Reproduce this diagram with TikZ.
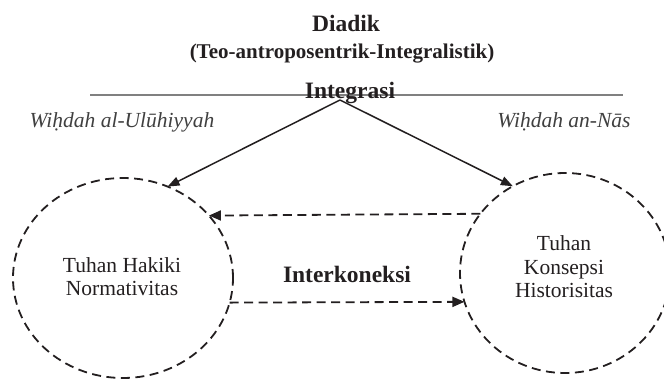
\documentclass[tikz,border=0pt]{standalone}
\usepackage{fontspec}
\setmainfont{Liberation Serif}
\usetikzlibrary{shapes.geometric,arrows.meta}
\definecolor{ink}{HTML}{231F20}
\definecolor{rule}{HTML}{808080}
\definecolor{soft}{HTML}{404040}
\begin{document}
\begin{tikzpicture}[x=1pt,y=-1pt,
  every node/.style={inner sep=0pt,outer sep=0pt,text=ink},
  headline/.style={font=\fontsize{23.5}{27}\selectfont\bfseries,anchor=base},
  subline/.style={font=\fontsize{21}{25}\selectfont\bfseries,anchor=base},
  sidelabel/.style={font=\fontsize{21.5}{25}\selectfont\itshape,text=soft,anchor=base},
  bodytext/.style={font=\fontsize{21.5}{23.5}\selectfont,align=center},
  realm/.style={ellipse,draw=ink,line width=1.8pt,dash pattern=on 9pt off 5.5pt},
  solidarrow/.style={draw=ink,line width=1.5pt,-{Triangle[length=12pt,width=9pt]}},
  linkarrow/.style={draw=ink,line width=1.8pt,dash pattern=on 9pt off 5.5pt,
    -{Triangle[length=12pt,width=10pt]}}
]
\useasboundingbox (0,0) rectangle (664,379);

% headings
\node[headline] (title) at (346,32) {Diadik};
\node[subline] (subtitle) at (342,59) {(Teo-antroposentrik-Integralistik)};

% rule under the headings
\coordinate (ruleL) at (90,95);
\coordinate (ruleR) at (623,95);
\draw[rule,line width=1.8pt] (ruleL) -- (ruleR);

\node[headline] (integ) at (350,99) {Integrasi};

% side labels
\node[sidelabel] (wl) at (122,128) {Wi\d{h}dah al-Ul\={u}hiyyah};
\node[sidelabel] (wr) at (564,128) {Wi\d{h}dah an-N\={a}s};

% the two realms
\node[realm,minimum width=220pt,minimum height=200pt] (L) at (123,278) {};
\node[realm,minimum width=210pt,minimum height=200pt] (R) at (565,273) {};

\node[bodytext] (lt) at (122,276.5) {Tuhan Hakiki\\Normativitas};
\node[bodytext] (rt) at (564,267) {Tuhan\\Konsepsi\\Historisitas};

% integration arrows
\coordinate (apex) at (340,100);
\draw[solidarrow] (apex) -- (L.64);
\draw[solidarrow] (apex) -- (R.121.5);

% interconnection arrows
\draw[linkarrow] (R.145.8) -- (L.36.4);
\draw[linkarrow] (L.-13.2) -- (R.196.7);

\node[headline] (inter) at (347,283) {Interkoneksi};
\end{tikzpicture}
\end{document}
